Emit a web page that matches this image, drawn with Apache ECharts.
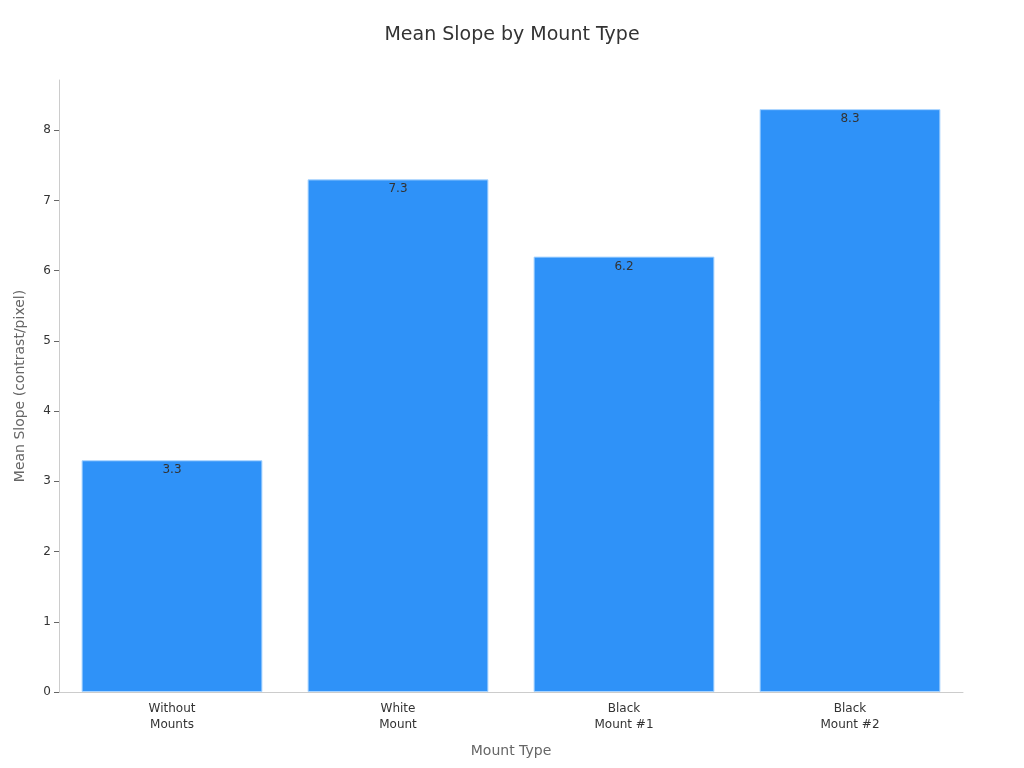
<!DOCTYPE html>
<html><head><meta charset="utf-8">
<script src="https://cdn.jsdelivr.net/npm/echarts@6/dist/echarts.min.js"></script>
<style>html,body{margin:0;padding:0;background:#fff}#c{width:1024px;height:768px}</style>
</head><body><div id="c"></div>
<script>
const categories = ['Without\nMounts', 'White\nMount', 'Black\nMount #1', 'Black\nMount #2'];
const meanSlope = [3.3, 7.3, 6.2, 8.3];
const yTicks = [0, 1, 2, 3, 4, 5, 6, 7, 8];

const chart = echarts.init(document.getElementById('c'));
chart.setOption({
  backgroundColor: '#fff',
  textStyle: { fontFamily: 'DejaVu Sans' },
  title: {
    text: 'Mean Slope by Mount Type', left: 'center', top: 21,
    textStyle: { fontSize: 19, fontWeight: 'normal', color: '#333', fontFamily: 'DejaVu Sans' }
  },
  grid: { left: 59, right: 61, top: 80, bottom: 76, containLabel: false },
  xAxis: {
    type: 'category', data: categories,
    name: 'Mount Type', nameLocation: 'middle', nameGap: 52,
    nameTextStyle: { fontSize: 14, color: '#666' },
    axisLine: { lineStyle: { color: '#ccc' } },
    axisTick: { alignWithLabel: true, length: 5, lineStyle: { color: '#666' } },
    axisLabel: { fontSize: 12, color: '#333', lineHeight: 16, margin: 9 }
  },
  yAxis: {
    type: 'value', min: 0, max: v => v.max * 1.05, interval: 1,
    name: 'Mean Slope (contrast/pixel)', nameLocation: 'middle', nameGap: 32,
    nameTextStyle: { fontSize: 14, color: '#666' },
    axisLine: { show: true, lineStyle: { color: '#ccc' } },
    axisTick: { show: true, length: 5, customValues: yTicks, lineStyle: { color: '#666' } },
    axisLabel: { fontSize: 12, color: '#333', margin: 8, customValues: yTicks },
    splitLine: { show: false }
  },
  series: [{
    type: 'bar', data: meanSlope, barWidth: '80%',
    itemStyle: { color: '#2f92f8', borderColor: '#a8d4ff', borderWidth: 1 },
    label: { show: true, position: 'insideTop', distance: 4, fontSize: 12, color: '#333' }
  }]
});
</script></body></html>
